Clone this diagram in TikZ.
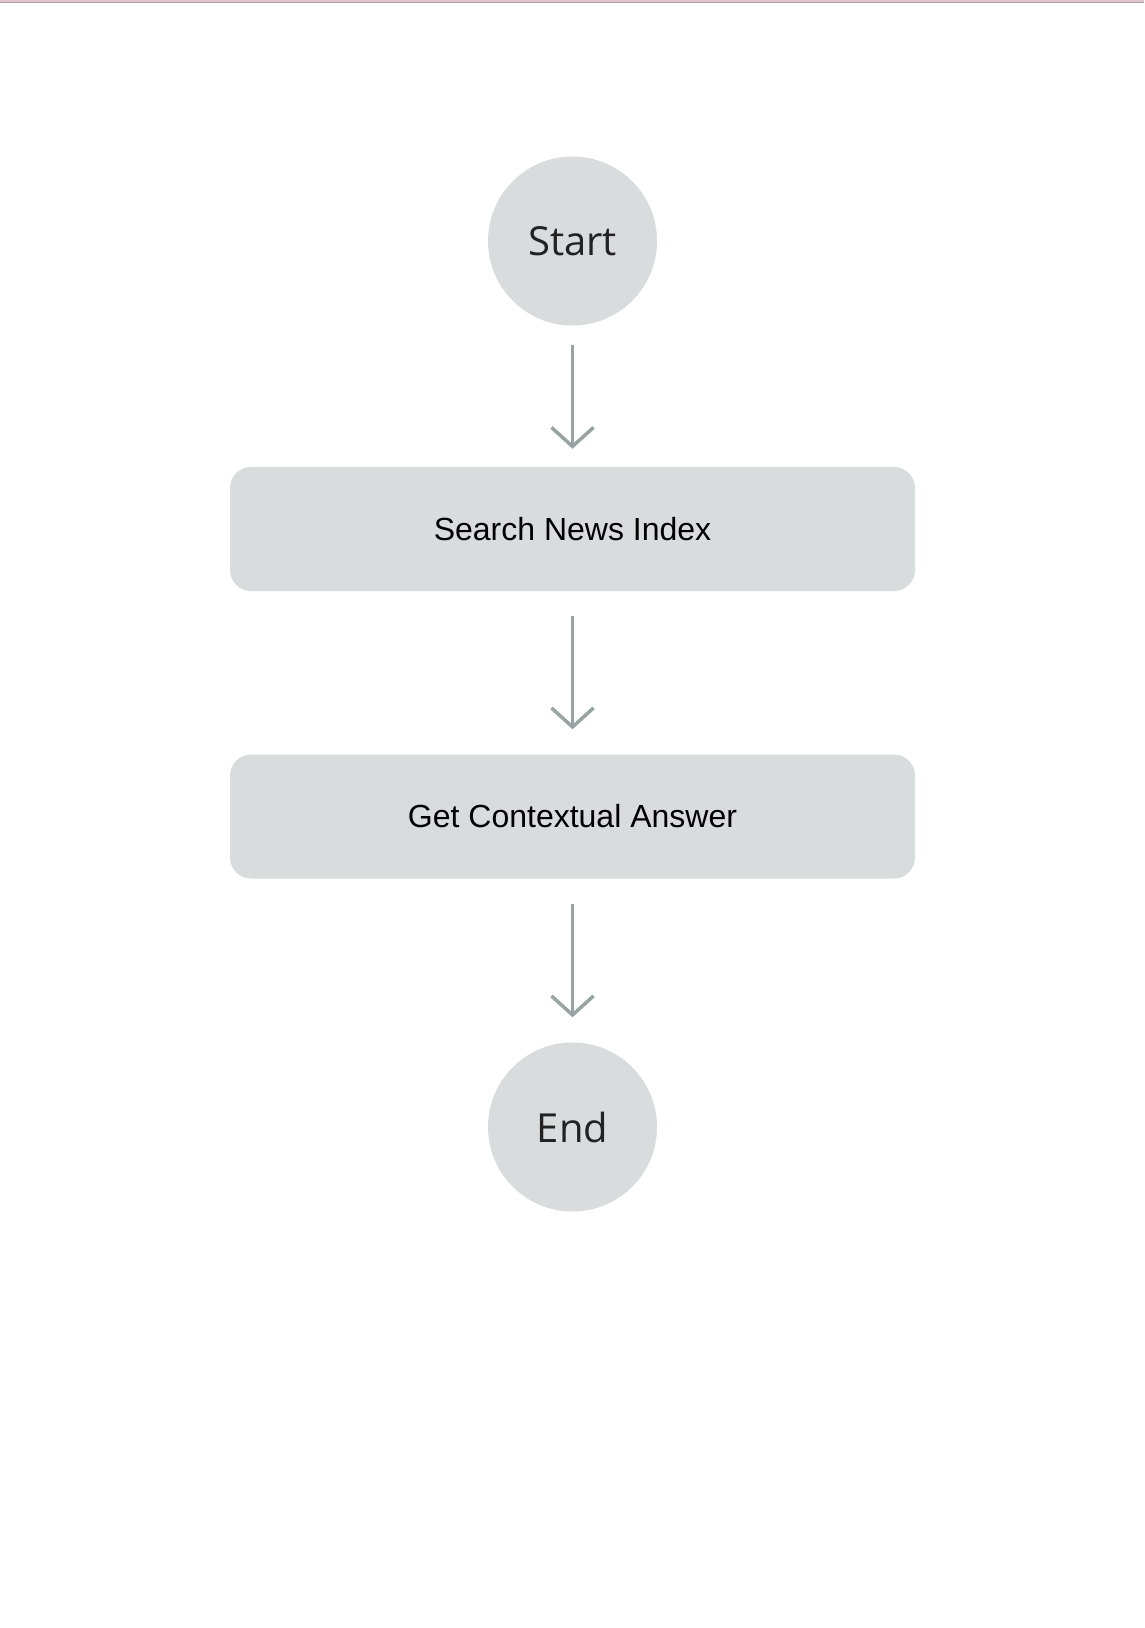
\documentclass[tikz,border=0pt]{standalone}
\usepackage{fontspec}
\setmainfont{Liberation Sans}
\newfontfamily\termfont{Open Sans}
\usetikzlibrary{arrows.meta}
\definecolor{nodegrey}{HTML}{D9DCDD}
\definecolor{arrowgrey}{HTML}{99A3A4}
\definecolor{labelblack}{HTML}{222222}
\definecolor{topline}{HTML}{E3C3CC}
\tikzset{
  terminal/.style={circle,fill=nodegrey,minimum size=169pt,inner sep=0pt,font=\termfont\fontsize{40}{46}\selectfont,text=labelblack},
  stepbox/.style={rectangle,rounded corners=21pt,fill=nodegrey,minimum width=685pt,minimum height=124pt,inner sep=0pt,font=\fontsize{32}{38}\selectfont,text=black},
  flow/.style={arrowgrey,line width=3.5pt,-{Straight Barb[length=19pt,width=42pt]},shorten <=25pt,shorten >=25pt}
}
\begin{document}
\begin{tikzpicture}[x=1pt,y=-1pt]
    \useasboundingbox[fill=white] (0,0) rectangle (1144,1628);
    \fill[topline] (0,0) rectangle (1144,2);
    \draw[gray!70,line width=1pt] (0,2.5) -- (1144,2.5);
    \node[terminal] (start) at (572.5,241) {Start};
    \node[stepbox] (search) at (572.5,529) {Search News Index};
    \node[stepbox] (answer) at (572.5,816.5) {Get Contextual Answer};
    \node[terminal] (end) at (572.5,1127) {End};
    \draw[flow,shorten <=19pt,shorten >=18pt] (start) -- (search);
    \draw[flow] (search) -- (answer);
    \draw[flow] (answer) -- (end);
\end{tikzpicture}
\end{document}
